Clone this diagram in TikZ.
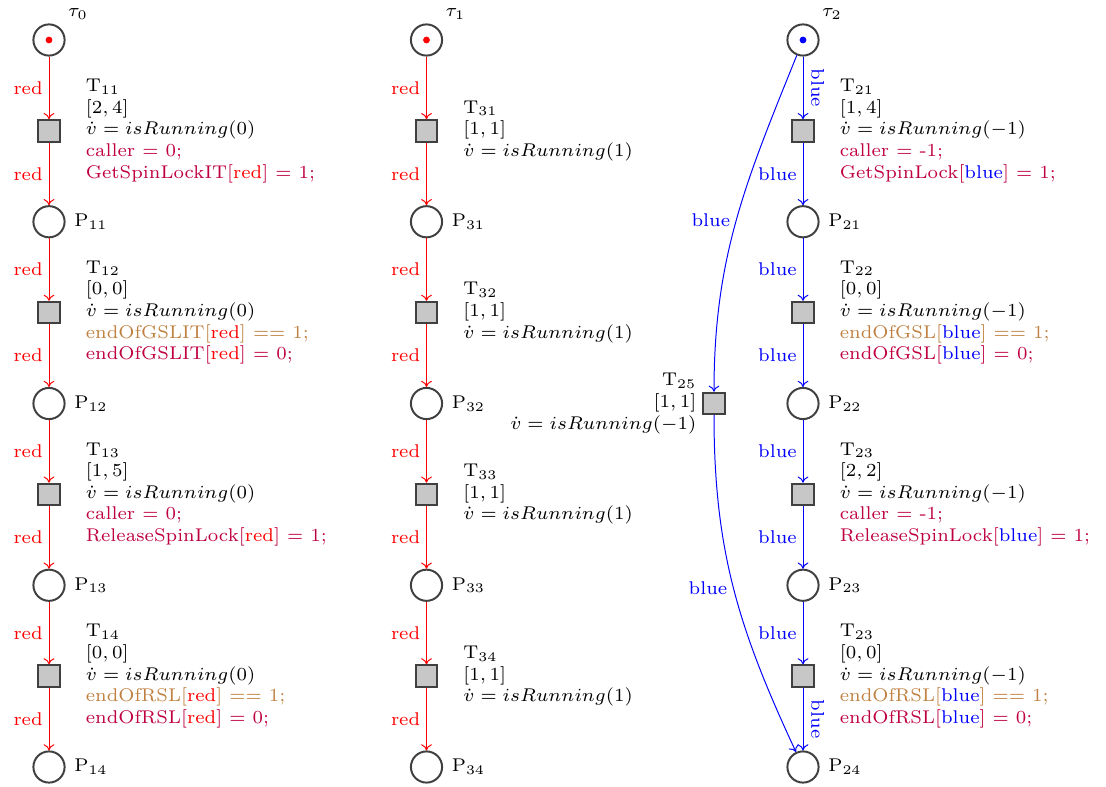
\documentclass[tikz,border=0pt]{standalone}
\usetikzlibrary{calc,arrows.meta}
\tikzset{
  place/.style={circle, draw=black!75, line width=1.1pt, minimum size=17.4pt, inner sep=0pt},
  trans/.style={rectangle, draw=black!75, fill=black!22, line width=1.1pt, minimum size=12pt, inner sep=0pt},
  token/.style={circle, fill=#1, inner sep=0pt, minimum size=3.8pt},
  txt/.style={font=\fontsize{7}{8.2}\selectfont, scale=1.47},
  tinfo/.style={txt, anchor=west, align=left, inner sep=0pt},
  tinfoL/.style={txt, anchor=east, align=right, inner sep=0pt},
  pname/.style={txt, anchor=west, inner sep=0pt},
  tau/.style={txt, inner sep=0pt},
  arcR/.style={-{To[length=3.4pt,width=6pt]}, red, line width=0.55pt},
  arcB/.style={-{To[length=3.4pt,width=6pt]}, blue, line width=0.55pt},
  elab/.style={txt, inner sep=2.1pt},
  rlab/.style={txt, inner sep=2.8pt, anchor=south, rotate=-90},
}
\newcommand{\act}[1]{\textcolor{purple}{#1}}
\newcommand{\grd}[1]{\textcolor{brown}{#1}}
\begin{document}
\begin{tikzpicture}[x=0.558pt, y=-0.558pt]
\useasboundingbox (0,0) rectangle (1106,787);

% ---------------- column 1 ----------------
\node[place] (t0) at (49,40) {};
\node[token=red] at (t0.center) {};
\node[tau] at ([shift={(29,-26)}]t0.center) {$\tau_0$};
\node[trans] (T11) at (49,130.9) {};
\node[place] (P11) at (49,221.75) {};
\node[trans] (T12) at (49,312.6) {};
\node[place] (P12) at (49,403.5) {};
\node[trans] (T13) at (49,494.4) {};
\node[place] (P13) at (49,585.25) {};
\node[trans] (T14) at (49,676.1) {};
\node[place] (P14) at (49,767) {};

\foreach \p/\n in {P11/11, P12/12, P13/13, P14/14}
  \node[pname] at ([xshift=4.6pt]\p.east) {P$_{\n}$};

\node[tinfo] at ([xshift=13.7pt]T11.east)
  {T$_{11}$\\$[2,4]$\\$\dot v = isRunning(0)$\\\act{caller $=$ 0;}\\\act{GetSpinLockIT[\textcolor{red}{red}] $=$ 1;}};
\node[tinfo] at ([xshift=13.7pt]T12.east)
  {T$_{12}$\\$[0,0]$\\$\dot v = isRunning(0)$\\\grd{endOfGSLIT[\textcolor{red}{red}] $==$ 1;}\\\act{endOfGSLIT[\textcolor{red}{red}] $=$ 0;}};
\node[tinfo] at ([xshift=13.7pt]T13.east)
  {T$_{13}$\\$[1,5]$\\$\dot v = isRunning(0)$\\\act{caller $=$ 0;}\\\act{ReleaseSpinLock[\textcolor{red}{red}] $=$ 1;}};
\node[tinfo] at ([xshift=13.7pt]T14.east)
  {T$_{14}$\\$[0,0]$\\$\dot v = isRunning(0)$\\\grd{endOfRSL[\textcolor{red}{red}] $==$ 1;}\\\act{endOfRSL[\textcolor{red}{red}] $=$ 0;}};

\draw[arcR] (t0) -- node[elab, left, red] {red} (T11);
\draw[arcR] (T11) -- node[elab, left, red] {red} (P11);
\draw[arcR] (P11) -- node[elab, left, red] {red} (T12);
\draw[arcR] (T12) -- node[elab, left, red] {red} (P12);
\draw[arcR] (P12) -- node[elab, left, red] {red} (T13);
\draw[arcR] (T13) -- node[elab, left, red] {red} (P13);
\draw[arcR] (P13) -- node[elab, left, red] {red} (T14);
\draw[arcR] (T14) -- node[elab, left, red] {red} (P14);

% ---------------- column 2 ----------------
\node[place] (t1) at (426.5,40) {};
\node[token=red] at (t1.center) {};
\node[tau] at ([shift={(29,-26)}]t1.center) {$\tau_1$};
\node[trans] (T31) at (426.5,130.9) {};
\node[place] (P31) at (426.5,221.75) {};
\node[trans] (T32) at (426.5,312.6) {};
\node[place] (P32) at (426.5,403.5) {};
\node[trans] (T33) at (426.5,494.4) {};
\node[place] (P33) at (426.5,585.25) {};
\node[trans] (T34) at (426.5,676.1) {};
\node[place] (P34) at (426.5,767) {};

\foreach \p/\n in {P31/31, P32/32, P33/33, P34/34}
  \node[pname] at ([xshift=4.6pt]\p.east) {P$_{\n}$};
\foreach \t/\n in {T31/31, T32/32, T33/33, T34/34}
  \node[tinfo] at ([xshift=13.7pt]\t.east) {T$_{\n}$\\$[1,1]$\\$\dot v = isRunning(1)$};

\draw[arcR] (t1) -- node[elab, left, red] {red} (T31);
\draw[arcR] (T31) -- node[elab, left, red] {red} (P31);
\draw[arcR] (P31) -- node[elab, left, red] {red} (T32);
\draw[arcR] (T32) -- node[elab, left, red] {red} (P32);
\draw[arcR] (P32) -- node[elab, left, red] {red} (T33);
\draw[arcR] (T33) -- node[elab, left, red] {red} (P33);
\draw[arcR] (P33) -- node[elab, left, red] {red} (T34);
\draw[arcR] (T34) -- node[elab, left, red] {red} (P34);

% ---------------- column 3 ----------------
\node[place] (t2) at (803,40) {};
\node[token=blue] at (t2.center) {};
\node[tau] at ([shift={(29,-26)}]t2.center) {$\tau_2$};
\node[trans] (T21) at (803,130.9) {};
\node[place] (P21) at (803,221.75) {};
\node[trans] (T22) at (803,312.6) {};
\node[place] (P22) at (803,403.5) {};
\node[trans] (T23) at (803,494.4) {};
\node[place] (P23) at (803,585.25) {};
\node[trans] (T24) at (803,676.1) {};
\node[place] (P24) at (803,767) {};
\node[trans] (T25) at (714,403.5) {};

\foreach \p/\n in {P21/21, P22/22, P23/23, P24/24}
  \node[pname] at ([xshift=4.6pt]\p.east) {P$_{\n}$};

\node[tinfo] at ([xshift=13.7pt]T21.east)
  {T$_{21}$\\$[1,4]$\\$\dot v = isRunning(-1)$\\\act{caller $=$ -1;}\\\act{GetSpinLock[\textcolor{blue}{blue}] $=$ 1;}};
\node[tinfo] at ([xshift=13.7pt]T22.east)
  {T$_{22}$\\$[0,0]$\\$\dot v = isRunning(-1)$\\\grd{endOfGSL[\textcolor{blue}{blue}] $==$ 1;}\\\act{endOfGSL[\textcolor{blue}{blue}] $=$ 0;}};
\node[tinfo] at ([xshift=13.7pt]T23.east)
  {T$_{23}$\\$[2,2]$\\$\dot v = isRunning(-1)$\\\act{caller $=$ -1;}\\\act{ReleaseSpinLock[\textcolor{blue}{blue}] $=$ 1;}};
\node[tinfo] at ([xshift=13.7pt]T24.east)
  {T$_{23}$\\$[0,0]$\\$\dot v = isRunning(-1)$\\\grd{endOfRSL[\textcolor{blue}{blue}] $==$ 1;}\\\act{endOfRSL[\textcolor{blue}{blue}] $=$ 0;}};
\node[tinfoL] at ([xshift=-3pt]T25.west)
  {T$_{25}$\\$[1,1]$\\$\dot v = isRunning(-1)$};

\draw[arcB] (t2) -- node[rlab, blue] {blue} (T21);
\draw[arcB] (T21) -- node[elab, left, blue] {blue} (P21);
\draw[arcB] (P21) -- node[elab, left, blue] {blue} (T22);
\draw[arcB] (T22) -- node[elab, left, blue] {blue} (P22);
\draw[arcB] (P22) -- node[elab, left, blue] {blue} (T23);
\draw[arcB] (T23) -- node[elab, left, blue] {blue} (P23);
\draw[arcB] (P23) -- node[elab, left, blue] {blue} (T24);
\draw[arcB] (T24) -- node[rlab, blue] {blue} (P24);

\draw[arcB] (t2) to[out=-112, in=90] node[elab, left, blue] {blue} (T25);
\draw[arcB] (T25) to[out=-90, in=115] node[elab, left, blue] {blue} (P24);
\end{tikzpicture}
\end{document}
